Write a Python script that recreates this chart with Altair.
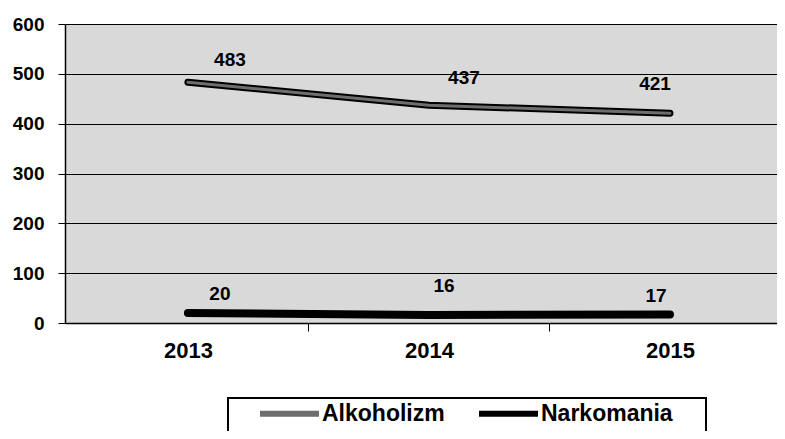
import altair as alt
import pandas as pd

years = [2013, 2014, 2015]
alkoholizm = [483, 437, 421]
narkomania = [20, 16, 17]
series_names = ["Alkoholizm", "Narkomania"]

# label offsets (pixels) relative to each point, per series
label_dx = {"Alkoholizm": [42, 35, -15], "Narkomania": [32, 15, -14]}
label_dy = {"Alkoholizm": [-22, -27, -29], "Narkomania": [-19, -29, -19]}
outline_width = {"Alkoholizm": 7, "Narkomania": 8}

rows = []
for name, vals in zip(series_names, [alkoholizm, narkomania]):
    for y, v in zip(years, vals):
        rows.append({"year": y, "value": v, "series": name})
df = pd.DataFrame(rows)

FONT = "Liberation Sans"
W, H = 712, 299

x_enc = alt.X("year:Q",
              scale=alt.Scale(domain=[2012.49, 2015.444], nice=False, zero=False),
              axis=alt.Axis(values=[2013, 2013.5, 2014, 2014.5, 2015],
                            labelExpr="datum.value % 1 == 0 ? format(datum.value, 'd') : ''",
                            tickColor={"condition": {"test": "datum.value % 1 != 0", "value": "black"},
                                       "value": "transparent"},
                            tickSize=8, grid=False, domainColor="black", domainWidth=1.5,
                            labelFont=FONT, labelFontSize=22, labelFontWeight="bold",
                            labelColor="black", labelPadding=9, title=None))
y_enc = alt.Y("value:Q",
              scale=alt.Scale(domain=[0, 600], nice=False),
              axis=alt.Axis(values=[0, 100, 200, 300, 400, 500, 600], grid=True,
                            gridColor="black", gridWidth=1, gridOpacity=1,
                            domainColor="black", domainWidth=1.5, tickColor="black",
                            tickSize=7, labelFont=FONT, labelFontSize=19,
                            labelFontWeight="bold", labelColor="black",
                            labelPadding=14, title=None))

layers = []
legend_box = alt.Chart(df).mark_rect(fillOpacity=0, stroke="black", strokeWidth=1.5).encode(
    x=alt.value(163), x2=alt.value(641), y=alt.value(374), y2=alt.value(430),
)
layers.append(legend_box)

for k, name in enumerate(series_names):
    enc_x = x_enc if k == 0 else alt.X("year:Q")
    enc_y = y_enc if k == 0 else alt.Y("value:Q")
    layers.append(
        alt.Chart(df).transform_filter(alt.datum.series == name)
        .mark_line(strokeCap="round", color="black", strokeWidth=outline_width[name])
        .encode(x=enc_x, y=enc_y)
    )

inner = alt.Chart(df).mark_line(strokeCap="round", strokeWidth=3).encode(
    x="year:Q", y="value:Q",
    color=alt.Color("series:N",
                    scale=alt.Scale(domain=series_names, range=["#6e6e6e", "#000000"]),
                    legend=alt.Legend(title=None, orient="none", direction="horizontal",
                                      legendX=192, legendY=357, padding=0,
                                      symbolType="stroke", symbolSize=3481,
                                      symbolStrokeWidth=6, labelFont=FONT,
                                      labelFontSize=23, labelFontWeight="bold",
                                      labelColor="black", labelOffset=0,
                                      columnPadding=22)),
)
layers.append(inner)

for name, vals in zip(series_names, [alkoholizm, narkomania]):
    for i, (yr, v) in enumerate(zip(years, vals)):
        d = pd.DataFrame({"year": [yr], "value": [v], "label": [str(v)]})
        layers.append(
            alt.Chart(d).mark_text(font=FONT, fontSize=19, fontWeight="bold", color="black",
                                   dx=label_dx[name][i], dy=label_dy[name][i],
                                   baseline="middle", align="center").encode(
                x="year:Q", y="value:Q", text="label:N")
        )

chart = alt.layer(*layers).properties(
    width=W, height=H,
    padding={"left": 57, "top": 16, "right": 0, "bottom": 108},
    autosize=alt.AutoSizeParams(type="none"),
    background="white",
).configure_view(fill="#d9d9d9", stroke="transparent")

chart.save("out.html", embed_options={"renderer": "svg", "actions": False})
